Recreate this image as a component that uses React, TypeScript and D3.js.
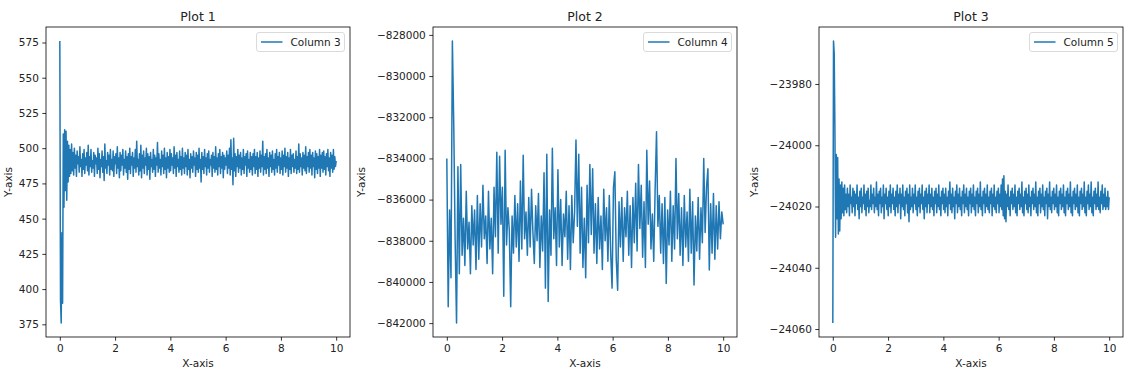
import React, { useEffect, useRef } from "react";
import * as d3 from "d3";

// sample values, spread evenly over x = 0..10
const col3 = [
  576, 392, 376, 440, 390, 510, 458, 513, 470, 512, 463, 505, 476, 502, 480, 499, 482, 503, 484, 497,
  481, 500, 486, 495, 480, 498, 489, 494, 483, 501, 487, 492, 480, 496, 485, 499, 482, 493, 488, 497,
  484, 502, 481, 494, 487, 499, 483, 491, 486, 497, 480, 495, 489, 493, 482, 500, 485, 496, 479, 492,
  487, 498, 483, 494, 477, 503, 486, 491, 482, 497, 488, 495, 481, 499, 485, 492, 484, 498, 480, 494,
  489, 496, 482, 501, 486, 493, 479, 497, 484, 495, 488, 499, 481, 492, 486, 498, 483, 494, 478, 496,
  485, 500, 482, 494, 488, 497, 480, 493, 486, 499, 483, 505, 487, 492, 481, 496, 484, 502, 479, 495,
  486, 498, 482, 493, 488, 500, 481, 496, 485, 494, 478, 497, 487, 492, 483, 499, 485, 495, 480, 493,
  488, 504, 483, 496, 486, 492, 481, 498, 487, 495, 482, 500, 485, 493, 479, 497, 486, 494, 483, 499,
  484, 496, 488, 493, 482, 501, 486, 495, 480, 497, 487, 492, 483, 498, 485, 494, 481, 500, 486, 493,
  482, 497, 487, 495, 481, 499, 485, 492, 479, 496, 486, 494, 483, 498, 488, 493, 480, 497, 485, 495,
  483, 500, 486, 492, 476, 497, 485, 494, 482, 499, 487, 493, 481, 496, 486, 498, 483, 492, 488, 495,
  480, 497, 486, 494, 483, 501, 485, 493, 481, 496, 487, 499, 482, 494, 486, 497, 479, 495, 485, 493,
  488, 498, 482, 495, 486, 500, 481, 506, 485, 493, 474, 507, 484, 496, 480, 494, 487, 499, 483, 495,
  486, 497, 481, 493, 485, 499, 482, 494, 488, 496, 480, 498, 486, 492, 483, 497, 485, 494, 481, 496,
  487, 499, 482, 494, 485, 497, 480, 493, 486, 498, 483, 495, 487, 505, 481, 494, 485, 496, 482, 499,
  486, 493, 480, 497, 487, 495, 483, 498, 485, 492, 481, 496, 486, 499, 483, 494, 488, 497, 482, 493,
  485, 498, 481, 495, 487, 500, 483, 494, 486, 497, 480, 493, 485, 499, 482, 495, 487, 496, 483, 492,
  486, 498, 482, 494, 485, 503, 483, 496, 487, 493, 481, 497, 486, 495, 484, 501, 482, 494, 487, 497,
  483, 499, 486, 495, 481, 497, 487, 493, 479, 498, 485, 496, 482, 494, 486, 499, 480, 495, 486, 497,
  483, 498, 485, 494, 481, 496, 487, 499, 484, 493, 480, 497, 486, 495, 483, 499, 485, 494, 487, 491,
];

const col4 = [
  -834000, -841200, -836500, -839800, -828300, -832400, -838000, -841990, -834400, -839600,
  -834300, -838700, -836900, -839200, -835600, -838400, -837100, -839600, -836300, -838200,
  -836500, -839400, -835800, -838900, -836200, -838300, -835300, -837900, -836800, -839100,
  -835600, -838400, -836900, -839600, -835400, -837800, -833700, -838600, -833900, -837200,
  -835400, -840700, -833600, -838200, -836400, -837500, -841200, -836800, -838600, -835800,
  -838300, -836200, -839000, -835100, -838400, -833850, -837900, -836600, -838700, -835900,
  -838300, -835500, -837600, -839100, -836300, -838000, -835700, -839300, -836800, -838500,
  -834700, -840300, -833800, -840950, -836500, -838700, -833500, -837900, -836400, -839200,
  -834550, -838300, -836000, -839200, -836700, -837800, -835600, -838900, -836300, -839400,
  -835800, -838100, -836600, -833100, -837300, -833800, -838600, -835400, -839300, -836900,
  -839800, -835300, -838100, -834300, -837700, -834500, -838600, -836200, -839100, -835900,
  -838400, -836800, -839400, -835500, -838000, -836400, -839000, -835800, -838600, -840300,
  -835400, -834650, -838900, -840400, -836100, -838300, -835900, -839000, -836400, -837800,
  -835600, -838700, -836300, -839300, -835900, -838100, -835200, -838500, -834300, -837400,
  -835300, -838800, -836100, -839300, -833600, -837200, -835100, -838400, -836700, -839000,
  -835500, -832700, -837300, -835800, -838600, -836200, -839100, -835900, -840080, -836500,
  -838200, -835600, -839000, -836300, -838400, -834000, -837900, -835700, -838700, -836400,
  -839200, -835800, -838300, -836600, -839000, -835500, -838600, -836100, -840150, -836800,
  -838500, -835900, -838900, -836400, -838100, -834000, -837600, -835400, -834500, -839420,
  -836200, -838600, -835700, -838900, -836300, -838400, -836100, -837900, -836600, -837200,
];

const col5 = [
  -24058, -23966, -23970, -23994, -24030, -24003, -24024, -24004, -24029, -24011, -24028, -24013, -24024, -24012, -24022, -24014, -24023, -24013, -24021, -24016,
  -24022, -24014, -24020, -24016, -24023, -24013, -24019, -24017, -24022, -24014, -24020, -24015, -24023, -24016, -24019, -24013, -24021, -24017, -24024, -24015,
  -24020, -24014, -24022, -24017, -24019, -24013, -24021, -24016, -24023, -24015, -24020, -24014, -24022, -24018, -24020, -24013, -24021, -24016, -24019, -24014,
  -24022, -24017, -24020, -24012, -24021, -24016, -24023, -24015, -24019, -24014, -24022, -24017, -24020, -24013, -24024, -24016, -24019, -24014, -24021, -24017,
  -24023, -24015, -24020, -24013, -24022, -24016, -24019, -24014, -24021, -24017, -24023, -24015, -24020, -24013, -24022, -24016, -24019, -24014, -24024, -24016,
  -24020, -24013, -24021, -24017, -24023, -24015, -24019, -24014, -24022, -24016, -24025, -24013, -24021, -24017, -24020, -24014, -24022, -24016, -24019, -24013,
  -24021, -24017, -24023, -24015, -24020, -24014, -24022, -24016, -24019, -24013, -24021, -24017, -24024, -24015, -24020, -24014, -24022, -24016, -24019, -24013,
  -24022, -24016, -24020, -24014, -24021, -24017, -24023, -24015, -24019, -24014, -24022, -24016, -24020, -24013, -24021, -24017, -24023, -24015, -24019, -24014,
  -24021, -24016, -24022, -24014, -24020, -24017, -24023, -24015, -24019, -24012, -24021, -24016, -24022, -24014, -24020, -24017, -24024, -24015, -24019, -24013,
  -24022, -24016, -24020, -24014, -24021, -24017, -24023, -24015, -24019, -24013, -24022, -24016, -24020, -24014, -24021, -24017, -24023, -24015, -24019, -24014,
  -24022, -24016, -24020, -24013, -24021, -24017, -24023, -24015, -24019, -24014, -24022, -24016, -24020, -24012, -24021, -24017, -24023, -24015, -24019, -24014,
  -24022, -24016, -24020, -24013, -24021, -24017, -24022, -24015, -24019, -24014, -24023, -24016, -24020, -24013, -24021, -24017, -24022, -24015, -24019, -24014,
  -24022, -24016, -24020, -24013, -24021, -24011, -24023, -24010, -24024, -24015, -24025, -24016, -24020, -24013, -24021, -24017, -24023, -24015, -24019, -24014,
  -24021, -24016, -24020, -24013, -24022, -24017, -24023, -24015, -24019, -24014, -24021, -24016, -24020, -24012, -24022, -24017, -24023, -24015, -24019, -24014,
  -24021, -24016, -24022, -24013, -24020, -24017, -24023, -24015, -24019, -24014, -24021, -24016, -24020, -24012, -24022, -24017, -24023, -24015, -24019, -24014,
  -24022, -24016, -24020, -24013, -24021, -24017, -24023, -24015, -24019, -24014, -24024, -24016, -24020, -24012, -24021, -24017, -24022, -24015, -24019, -24014,
  -24021, -24016, -24020, -24013, -24022, -24017, -24023, -24015, -24019, -24014, -24021, -24016, -24020, -24013, -24022, -24017, -24023, -24015, -24019, -24014,
  -24021, -24016, -24020, -24012, -24022, -24017, -24023, -24015, -24019, -24014, -24021, -24016, -24020, -24013, -24022, -24017, -24023, -24015, -24019, -24014,
  -24021, -24016, -24020, -24012, -24022, -24017, -24023, -24015, -24019, -24013, -24021, -24016, -24020, -24012, -24022, -24017, -24023, -24015, -24019, -24014,
  -24021, -24016, -24020, -24012, -24021, -24017, -24022, -24015, -24019, -24013, -24021, -24016, -24020, -24014, -24021, -24017, -24020, -24015, -24021, -24017,
];

const xTicks = [0, 2, 4, 6, 8, 10];
const titles = ["Plot 1", "Plot 2", "Plot 3"];
const seriesNames = ["Column 3", "Column 4", "Column 5"];
const yTicks1 = [375, 400, 425, 450, 475, 500, 525, 550, 575];
const yTicks2 = [-842000, -840000, -838000, -836000, -834000, -832000, -830000, -828000];
const yTicks3 = [-24060, -24040, -24020, -24000, -23980];

const W = 1130, H = 379;
const axW = 304, axH = 310, axTop = 27;
const lefts = [46, 433, 819];
const font = "DejaVu Sans, sans-serif";
const blue = "#1f77b4";

function Panel({ idx, values, yTicks }: { idx: number; values: number[]; yTicks: number[] }) {
  const ref = useRef<SVGGElement>(null);

  useEffect(() => {
    const g = d3.select(ref.current);
    g.selectAll("*").remove();

    // samples are evenly spaced along x
    const xs = values.map((_, i) => (i * 10) / (values.length - 1));
    const x = d3.scaleLinear().domain([-0.5, 10.5]).range([0, axW]);
    const [lo, hi] = d3.extent(values) as [number, number];
    const pad = (hi - lo) * 0.05;
    const y = d3.scaleLinear().domain([lo - pad, hi + pad]).range([axH, 0]);

    const clipId = `clip${idx}`;
    g.append("clipPath").attr("id", clipId)
      .append("rect").attr("width", axW).attr("height", axH);

    const line = d3.line<number>()
      .x((_, i) => x(xs[i]))
      .y((d) => y(d));

    g.append("path")
      .datum(values)
      .attr("clip-path", `url(#${clipId})`)
      .attr("d", line)
      .attr("fill", "none")
      .attr("stroke", blue)
      .attr("stroke-width", 1.5)
      .attr("stroke-linejoin", "round");

    // axes
    const xAxis = g.append("g")
      .attr("transform", `translate(0,${axH})`)
      .call(d3.axisBottom(x).tickValues(xTicks).tickSize(3.7).tickPadding(3.5).tickFormat(d3.format("d")));
    const yAxis = g.append("g")
      .call(d3.axisLeft(y).tickValues(yTicks).tickSize(3.7).tickPadding(3.5).tickFormat(d3.format("d")));
    [xAxis, yAxis].forEach((a) => {
      a.select(".domain").remove();
      a.selectAll("line").attr("stroke", "#000").attr("stroke-width", 0.8);
      a.selectAll("text").attr("font-family", font).attr("font-size", 10.5).attr("fill", "#222");
    });

    // frame
    g.append("rect")
      .attr("width", axW).attr("height", axH)
      .attr("fill", "none").attr("stroke", "#000").attr("stroke-width", 0.8);

    // title and axis labels
    g.append("text")
      .attr("x", axW / 2).attr("y", -6)
      .attr("text-anchor", "middle")
      .attr("font-family", font).attr("font-size", 12.5).attr("fill", "#222")
      .text(titles[idx]);
    g.append("text")
      .attr("x", axW / 2).attr("y", axH + 30)
      .attr("text-anchor", "middle")
      .attr("font-family", font).attr("font-size", 10.5).attr("fill", "#222")
      .text("X-axis");
    const yLabelX = [-34, -68, -61][idx];
    g.append("text")
      .attr("transform", `translate(${yLabelX},${axH / 2}) rotate(-90)`)
      .attr("text-anchor", "middle")
      .attr("font-family", font).attr("font-size", 10.5).attr("fill", "#222")
      .text("Y-axis");

    // legend
    const lw = 88, lh = 19;
    const lg = g.append("g").attr("transform", `translate(${axW - 5.5 - lw},5.5)`);
    lg.append("rect")
      .attr("width", lw).attr("height", lh).attr("rx", 2.5)
      .attr("fill", "#fff").attr("fill-opacity", 0.8)
      .attr("stroke", "#d0d0d0").attr("stroke-width", 0.8);
    lg.append("line")
      .attr("x1", 4.5).attr("x2", 26).attr("y1", lh / 2).attr("y2", lh / 2)
      .attr("stroke", blue).attr("stroke-width", 1.5);
    lg.append("text")
      .attr("x", 34).attr("y", lh / 2).attr("dy", "0.35em")
      .attr("font-family", font).attr("font-size", 10.5).attr("fill", "#222")
      .text(seriesNames[idx]);
  }, [idx, values, yTicks]);

  return <g ref={ref} transform={`translate(${lefts[idx]},${axTop})`} />;
}

export default function App() {
  return (
    <svg width={W} height={H} style={{ position: "absolute", left: 0, top: 0, background: "#fff" }}>
      <Panel idx={0} values={col3} yTicks={yTicks1} />
      <Panel idx={1} values={col4} yTicks={yTicks2} />
      <Panel idx={2} values={col5} yTicks={yTicks3} />
    </svg>
  );
}
